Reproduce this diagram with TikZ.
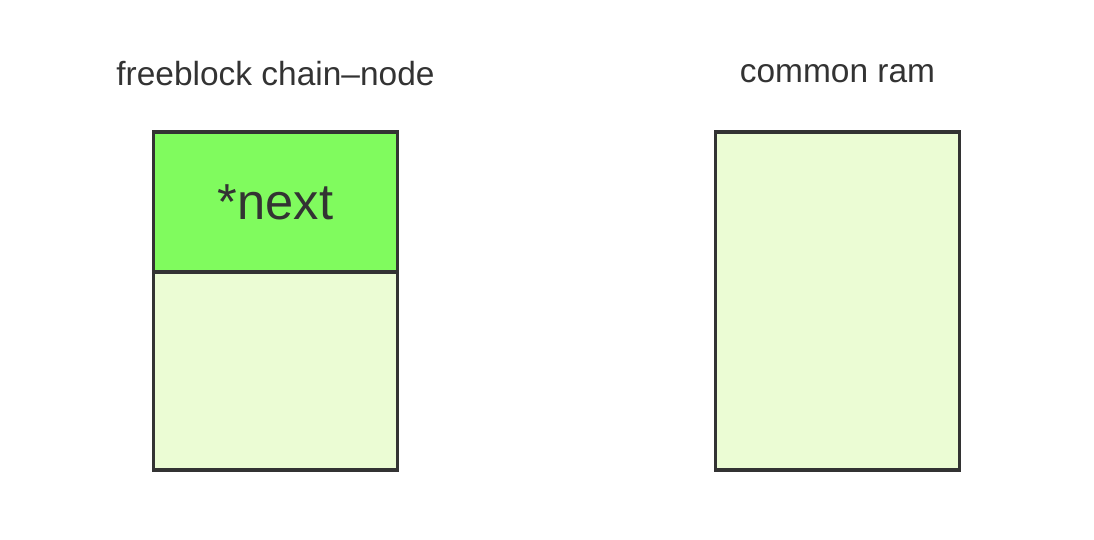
\documentclass[tikz,border=0pt]{standalone}
\usepackage{fontspec}
\setmainfont{Liberation Sans}
\usepackage{xcolor}
\usetikzlibrary{positioning}

\definecolor{ptrgreen}{HTML}{80FB5E}
\definecolor{ramgreen}{HTML}{EBFCD4}
\definecolor{edgegray}{HTML}{333333}

\begin{document}
\begin{tikzpicture}[
    x=0.025cm, y=-0.025cm,
    text=edgegray,
    cell/.style={
        draw=edgegray,
        line width=2.3pt,
        minimum width=6.1cm,
        inner sep=0pt,
        outer sep=0pt
    },
    title/.style={
        font=\fontsize{23.8}{28}\selectfont
    }
]
\useasboundingbox (0,0) rectangle (1094,540);

% freeblock chain-node
\node[cell, fill=ptrgreen, minimum height=3.5cm,
      font=\fontsize{36}{42}\selectfont] (ptr) at (275.5,202) {\raisebox{-2pt}{*next}};
\node[cell, fill=ramgreen, minimum height=4.95cm, below=0pt of ptr] (body) {};
\node[title] (ltitle) at (275.5,74) {freeblock chain–node};

% common ram
\node[cell, fill=ramgreen, minimum height=8.45cm] (ram) at (837.5,301) {};
\node[title] (rtitle) at (837.5,74) {common ram};

\end{tikzpicture}
\end{document}
